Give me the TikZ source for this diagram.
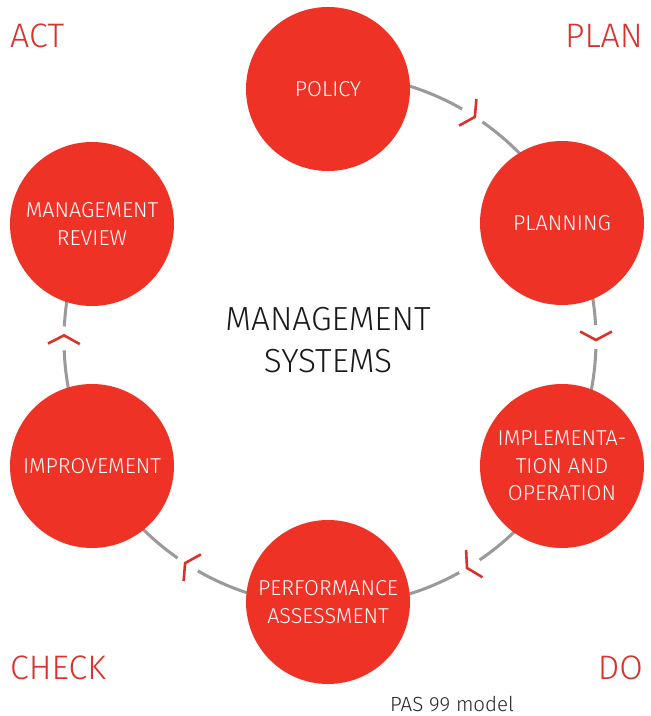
\documentclass[tikz,border=0pt]{standalone}
\usepackage{fontspec}
\setmainfont{Fira Sans}[UprightFont=* Light]
\usepackage{xcolor}
\definecolor{pasred}{HTML}{EE3326}
\definecolor{markred}{HTML}{D8322B}
\definecolor{ringgray}{HTML}{9A9A9A}

\begin{document}
\begin{tikzpicture}[x=0.03cm, y=0.03cm,
  step circle/.style={circle, fill=pasred, inner sep=0pt, minimum size=4.92cm,
    text=white, align=center, font=\fontsize{18.4}{23.5}\selectfont},
  corner/.style={text=markred, font=\fontsize{29}{32}\selectfont, inner sep=0pt},
  ringline/.style={ringgray, line width=2.6pt},
  chevron/.style={markred, line width=2.2pt}]
  \useasboundingbox (0,0) rectangle (651,716);

  % Define the centre of the cycle
  \coordinate (ring) at (330,376);

  % Draw the grey cycle, open between review and policy
  \draw[ringline] (ring) ++(90:7.98cm) arc[start angle=90, end angle=-210, radius=7.98cm];

  % Draw the direction marks on the cycle
  \foreach \a in {57,0,-59,-123,179} {
    \begin{scope}[shift={(ring)}, rotate=\a]
      \fill[white] (266,3) circle[radius=0.36cm];
      \draw[chevron] (250.1,8.5) -- (266,0) -- (281.9,8.5);
    \end{scope}
  }

  % Define the 6 steps of the cycle
  \node[step circle] (policy) at (328,627) {POLICY};
  \node[step circle] (planning) at (562,493) {PLANNING};
  \node[step circle] (implementation) at (562,250) {IMPLEMENTA-\\TION AND\\OPERATION};
  \node[step circle] (performance) at (328,114) {PERFORMANCE\\ASSESSMENT};
  \node[step circle] (improvement) at (92,250) {IMPROVEMENT};
  \node[step circle] (review) at (92,492) {MANAGEMENT\\REVIEW};

  % Title in the middle
  \node[align=center, text=black!90, font=\fontsize{28.5}{36}\selectfont] (title) at (328,376) {MANAGEMENT\\SYSTEMS};

  % Corner labels
  \node[corner, anchor=west] (act) at (10,680) {ACT};
  \node[corner, anchor=east] (plan) at (643,680) {PLAN};
  \node[corner, anchor=west] (check) at (10,48) {CHECK};
  \node[corner, anchor=east] (do) at (643,48) {DO};

  % Caption
  \node[anchor=west, inner sep=0pt, text=black!85, font=\fontsize{17.5}{20}\selectfont] (caption) at (390,12) {PAS 99 model};
\end{tikzpicture}
\end{document}
